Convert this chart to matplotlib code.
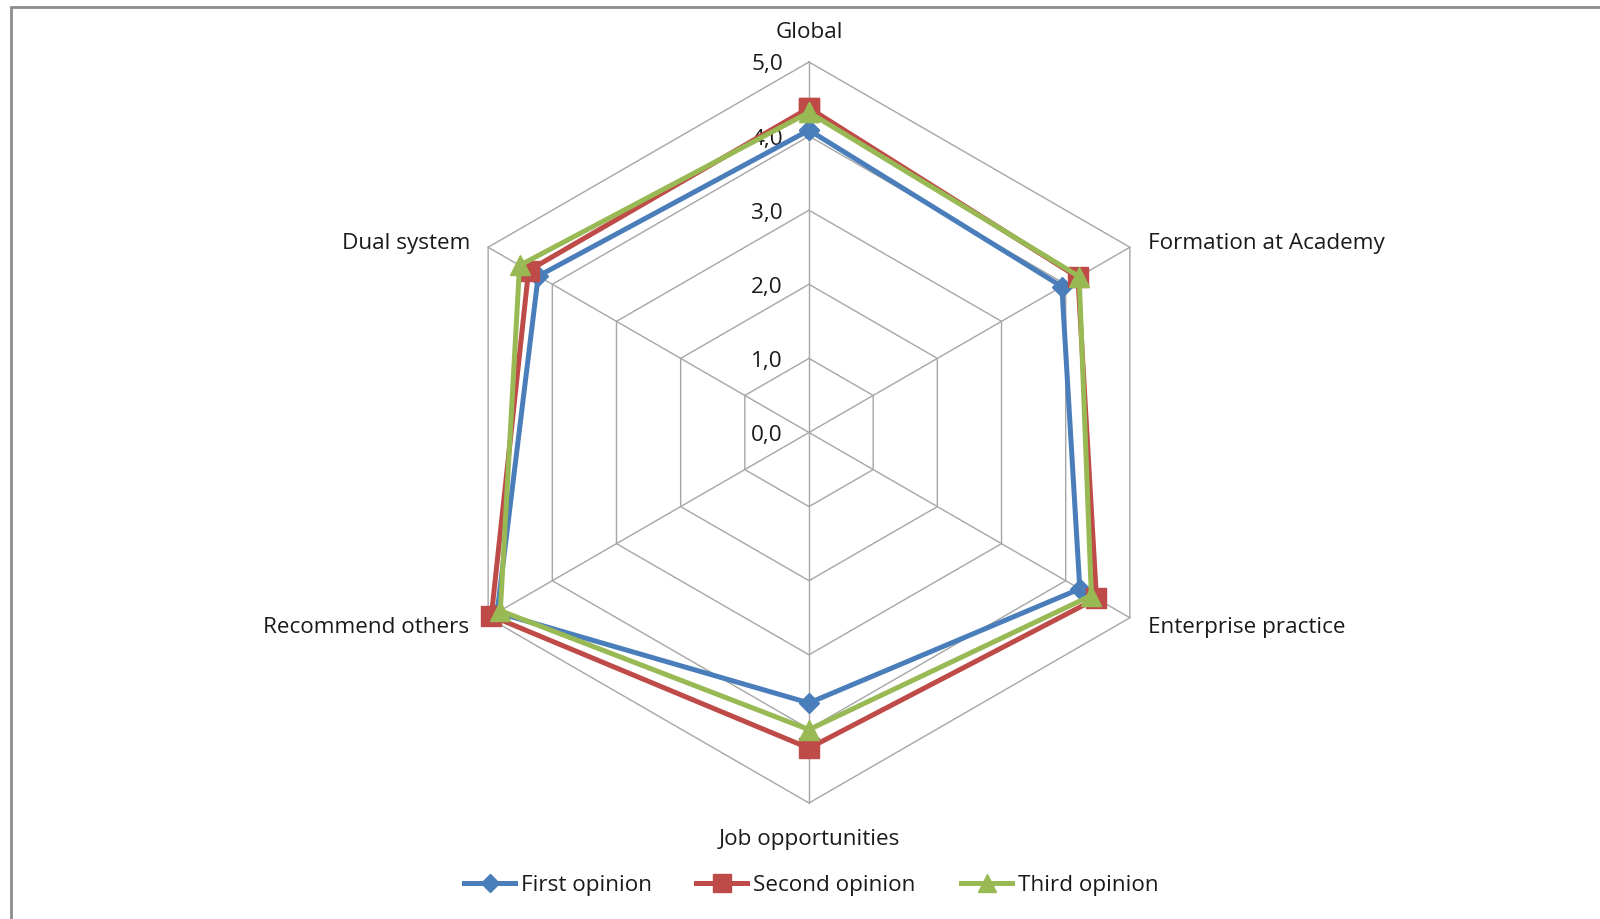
import numpy as np
import matplotlib
matplotlib.use("Agg")
import matplotlib.pyplot as plt
from matplotlib.patches import Rectangle

# Survey categories, clockwise from the top
categories = ["Global", "Formation at Academy", "Enterprise practice",
              "Job opportunities", "Recommend others", "Dual system"]

first_opinion = [4.08, 3.94, 4.22, 3.65, 4.86, 4.22]
second_opinion = [4.38, 4.19, 4.48, 4.26, 4.95, 4.37]
third_opinion = [4.32, 4.21, 4.40, 4.01, 4.81, 4.51]

series_names = ["First opinion", "Second opinion", "Third opinion"]
tick_values = [0.0, 1.0, 2.0, 3.0, 4.0, 5.0]
tick_labels = ["0,0", "1,0", "2,0", "3,0", "4,0", "5,0"]

W, H, DPI = 1600, 919, 100
fig = plt.figure(figsize=(W / DPI, H / DPI), dpi=DPI)
plt.rcParams["font.family"] = ["Open Sans", "DejaVu Sans"]
FS = 16.2
TXT = "#1a1a1a"
DY = 3  # small downward nudge for text baselines, in pixels

# Chart geometry in pixels: centre and radius of the 5.0 ring
cx, cy, rmax = 809.0, 432.5, 370.5
unit = rmax / tick_values[-1]
ax = fig.add_axes([0, 0, 1, 1])
ax.set_xlim(-cx / unit, (W - cx) / unit)
ax.set_ylim(-(H - cy) / unit, cy / unit)
ax.axis("off")

n = len(categories)
angles = np.pi / 2 - np.arange(n) * 2 * np.pi / n


def to_xy(vals):
    vals = np.asarray(vals, dtype=float)
    x = vals * np.cos(angles)
    y = vals * np.sin(angles)
    return np.append(x, x[0]), np.append(y, y[0])


def px(x, y):
    """Pixel position (from top-left) to data coordinates."""
    return (x - cx) / unit, (cy - y) / unit


grid_color = "#a6a6a6"
# Hexagonal rings
for v in tick_values[1:]:
    gx, gy = to_xy([v] * n)
    ax.plot(gx, gy, color=grid_color, lw=1.0, zorder=1)
# Spokes
for a in angles:
    ax.plot([0, tick_values[-1] * np.cos(a)], [0, tick_values[-1] * np.sin(a)],
            color=grid_color, lw=1.0, zorder=1)

# Value labels along the top spoke
for v, lab in zip(tick_values, tick_labels):
    ax.text(-26 / unit, v - DY / unit, lab, ha="right", va="center",
            fontsize=FS, color=TXT, zorder=2)

# Category labels
label_spec = [
    (809, 30, "center"),
    (1148, 241, "left"),
    (1148, 625, "left"),
    (809, 837, "center"),
    (469, 625, "right"),
    (470, 241, "right"),
]
for name, (lx, ly, ha) in zip(categories, label_spec):
    x, y = px(lx, ly + DY)
    ax.text(x, y, name, ha=ha, va="center", fontsize=FS, color=TXT)

colors = ["#4a7ebb", "#be4b48", "#98b954"]
markers = ["D", "s", "^"]
msizes = [10, 14, 15]
data = [first_opinion, second_opinion, third_opinion]
for vals, c, m, ms in zip(data, colors, markers, msizes):
    x, y = to_xy(vals)
    ax.plot(x, y, color=c, lw=3.6, marker=m, markersize=ms,
            markerfacecolor=c, markeredgecolor=c, zorder=3,
            solid_joinstyle="miter")

# Legend along the bottom
leg_items = [(464, 515, 521), (696, 747, 753), (961, 1012, 1018)]
for (x0, x1, xt), name, c, m, ms in zip(leg_items, series_names, colors,
                                         markers, msizes):
    (ax0, ly), (ax1, _) = px(x0, 883), px(x1, 883)
    ax.plot([ax0, ax1], [ly, ly], color=c, lw=3.6, zorder=3)
    ax.plot([(ax0 + ax1) / 2], [ly], marker=m, markersize=ms * 0.9,
            color=c, zorder=3)
    tx, ty = px(xt, 883 + DY)
    ax.text(tx, ty, name, ha="left", va="center", fontsize=FS, color=TXT)

# Outer chart frame
fig.patches.append(Rectangle((10.5 / W, -0.05), 1.2, 1 - 6.5 / H + 0.05,
                             transform=fig.transFigure, fill=False,
                             edgecolor="#8c8c8c", lw=2.0))

fig.savefig("out.png", dpi=DPI)
